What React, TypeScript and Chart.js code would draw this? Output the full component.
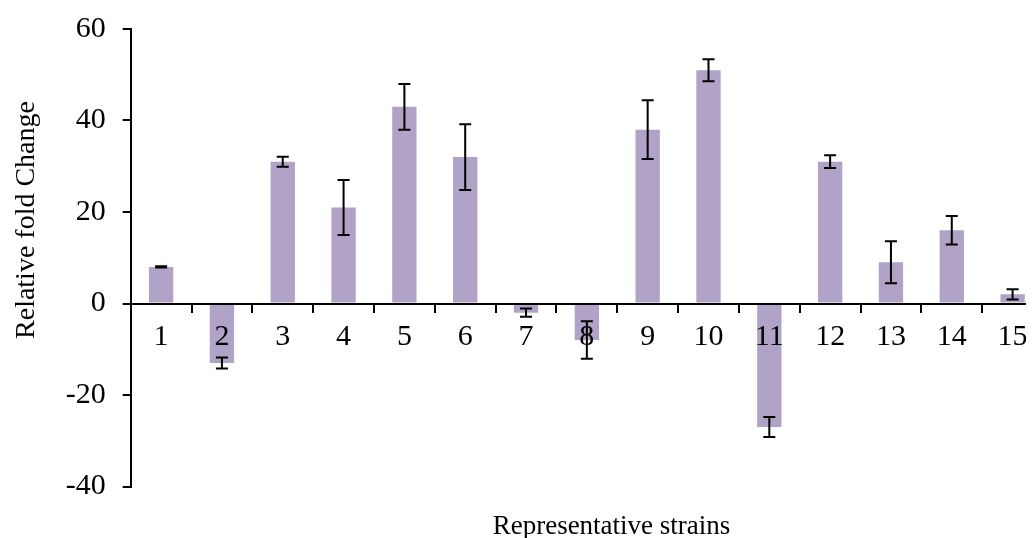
import React, { useEffect, useRef } from 'react';
import { Chart, registerables } from 'chart.js';

Chart.register(...registerables);

const categories = ['1', '2', '3', '4', '5', '6', '7', '8', '9', '10', '11', '12', '13', '14', '15'];
const foldChange = [8, -13, 31, 21, 43, 32, -2, -8, 38, 51, -27, 31, 9, 16, 2];
const errorValues = [0.15, 1.2, 1.1, 6, 5, 7.2, 0.9, 4.1, 6.4, 2.4, 2.2, 1.4, 4.6, 3.1, 1.1];
const yTickValues = [-40, -20, 0, 20, 40, 60];
const xTitle = 'Representative strains';
const yTitle = 'Relative fold Change';

const FONT = "'Liberation Serif', 'Times New Roman', serif";

const errorBarPlugin = {
  id: 'errorBars',
  afterDraw(chart: any) {
    const ctx = chart.ctx;
    const meta = chart.getDatasetMeta(0);
    const yScale = chart.scales.y;
    ctx.save();
    ctx.strokeStyle = '#000';
    ctx.lineWidth = 2;
    meta.data.forEach((bar: any, i: number) => {
      const v = foldChange[i];
      const e = errorValues[i];
      const x = bar.x;
      const yTop = yScale.getPixelForValue(v + e);
      const yBot = yScale.getPixelForValue(v - e);
      const cap = 6;
      ctx.beginPath();
      ctx.moveTo(x, yTop);
      ctx.lineTo(x, yBot);
      ctx.moveTo(x - cap, yTop);
      ctx.lineTo(x + cap, yTop);
      ctx.moveTo(x - cap, yBot);
      ctx.lineTo(x + cap, yBot);
      ctx.stroke();
    });
    ctx.restore();
  },
};

const axisTitlePlugin = {
  id: 'axisTitles',
  afterDraw(chart: any) {
    const ctx = chart.ctx;
    ctx.save();
    ctx.fillStyle = '#000';
    ctx.textAlign = 'center';
    ctx.textBaseline = 'middle';
    ctx.font = `27px ${FONT}`;
    ctx.fillText(xTitle, 603.5, 519);
    ctx.font = `28px ${FONT}`;
    ctx.translate(19, 212);
    ctx.rotate(-Math.PI / 2);
    ctx.fillText(yTitle, 0, 0);
    ctx.restore();
  },
};

export default function App() {
  const canvasRef = useRef<HTMLCanvasElement | null>(null);

  useEffect(() => {
    document.documentElement.style.overflow = 'hidden';
    document.body.style.overflow = 'hidden';
    const canvas = canvasRef.current;
    if (!canvas) return;
    const chart = new Chart(canvas, {
      type: 'bar',
      data: {
        labels: categories,
        datasets: [
          {
            data: foldChange,
            backgroundColor: '#B1A2C8',
            borderWidth: 0,
            categoryPercentage: 1,
            barPercentage: 0.4,
          },
        ],
      },
      plugins: [errorBarPlugin, axisTitlePlugin],
      options: {
        responsive: false,
        animation: false,
        layout: { padding: { top: 21, bottom: 51.5, left: 0, right: 25 } },
        plugins: {
          legend: { display: false },
          tooltip: { enabled: false },
          title: { display: false },
        },
        scales: {
          x: {
            position: { y: 0 } as any,
            grid: {
              drawOnChartArea: false,
              drawTicks: true,
              tickLength: 8,
              color: '#000',
              lineWidth: 2,
              offset: true,
              z: 1,
            },
            border: { color: '#000', width: 2, z: 1 },
            ticks: {
              color: '#000',
              font: { family: FONT, size: 30 },
              padding: 8,
              maxRotation: 0,
              autoSkip: false,
              z: 1,
            },
          },
          y: {
            min: -40,
            max: 60,
            afterFit: (s: any) => {
              s.width = 122.7;
              s.paddingTop = 0;
              s.paddingBottom = 0;
            },
            afterBuildTicks: (s: any) => {
              s.ticks = yTickValues.map((v) => ({ value: v }));
            },
            grid: {
              drawOnChartArea: false,
              drawTicks: true,
              tickLength: 8,
              color: '#000',
              lineWidth: 2,
            },
            border: { color: '#000', width: 2 },
            ticks: {
              color: '#000',
              font: { family: FONT, size: 30 },
              padding: 17,
              callback: (v: any) => String(v),
            },
          },
        },
      },
    });
    return () => chart.destroy();
  }, []);

  return (
    <div style={{ width: 1026, height: 530, overflow: 'hidden' }}>
      <canvas ref={canvasRef} width={1060} height={530} style={{ display: 'block', width: 1060, height: 530 }} />
    </div>
  );
}
